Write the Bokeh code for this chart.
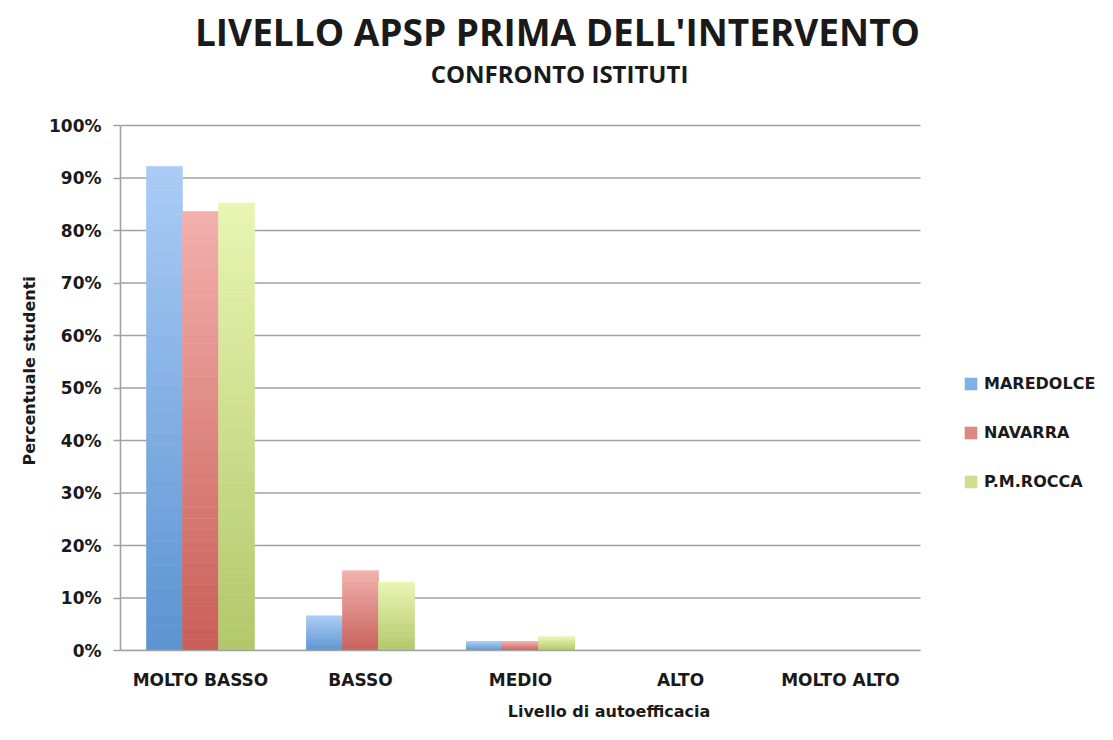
import numpy as np
from bokeh.plotting import figure
from bokeh.models import (ColumnDataSource, Legend, LegendItem, Title, Label,
                          NumeralTickFormatter, FixedTicker, Range1d)
from bokeh.embed import file_html
from bokeh.resources import INLINE

categories = ["MOLTO BASSO", "BASSO", "MEDIO", "ALTO", "MOLTO ALTO"]
series_names = ["MAREDOLCE", "NAVARRA", "P.M.ROCCA"]
maredolce = [0.922, 0.066, 0.017, 0.0, 0.0]
navarra = [0.836, 0.152, 0.017, 0.0, 0.0]
pm_rocca = [0.852, 0.130, 0.026, 0.0, 0.0]
y_ticks = [0, 0.1, 0.2, 0.3, 0.4, 0.5, 0.6, 0.7, 0.8, 0.9, 1.0]

series_values = [maredolce, navarra, pm_rocca]
# gradient colours (bottom, top) per series
grad = [((0x5B, 0x93, 0xD1), (0xAA, 0xCC, 0xF6)),
        ((0xC9, 0x5E, 0x58), (0xF3, 0xB0, 0xAC)),
        ((0xB3, 0xC7, 0x6A), (0xE8, 0xF6, 0xB2))]
offsets = [-0.225, 0.0, 0.225]
BAR_W = 0.225
NSEG = 40

FONT = "DejaVu Sans"
TXT = "#1A1A1A"
GRID = "#A2A2A2"

W, H = 1097, 724
LEFT, PLOT_RIGHT = 120, 920      # pixel extent of the category area
TOP_PX, BOTTOM_BORDER = 125, 74  # 100% line position, space under the frame
ncat = len(categories)
frame_h = H - BOTTOM_BORDER
x_end = ncat * (W - LEFT) / (PLOT_RIGHT - LEFT)   # room on the right for the legend
y_end = frame_h / (frame_h - TOP_PX)              # room on top for the titles
centers = [i + 0.5 for i in range(ncat)]

p = figure(x_range=Range1d(0, x_end), y_range=Range1d(0, y_end),
           width=W, height=H, output_backend="svg", toolbar_location=None,
           min_border_left=LEFT, min_border_right=0, min_border_top=0,
           min_border_bottom=BOTTOM_BORDER)
p.outline_line_color = None
p.background_fill_color = "white"
p.border_fill_color = "white"

def hexcol(c):
    return "#%02x%02x%02x" % tuple(int(round(v)) for v in c)

# horizontal grid lines over the category area only
p.segment(x0=[0] * len(y_ticks), x1=[ncat] * len(y_ticks), y0=y_ticks, y1=y_ticks,
          line_color=GRID, line_width=1.6)

renderers = []
for vals, (cb, ct), off in zip(series_values, grad, offsets):
    xs, bottoms, tops, cols = [], [], [], []
    for c, v in zip(centers, vals):
        if v <= 0:
            continue
        for k in range(NSEG):
            t = (k + 0.5) / NSEG
            xs.append(c + off)
            bottoms.append(v * k / NSEG)
            tops.append(v * (k + 1) / NSEG)
            cols.append(hexcol([b + (a - b) * t for a, b in zip(ct, cb)]))
    src = ColumnDataSource(dict(x=xs, bottom=bottoms, top=tops, color=cols))
    r = p.vbar(x="x", bottom="bottom", top="top",
               width=BAR_W, fill_color="color", line_color="color", line_width=0.6,
               source=src)
    renderers.append(r)

# axes
p.yaxis.ticker = FixedTicker(ticks=y_ticks)
p.yaxis.formatter = NumeralTickFormatter(format="0%")
p.yaxis.bounds = (0, 1)
p.yaxis.axis_line_color = GRID
p.yaxis.axis_line_width = 1.6
p.yaxis.major_tick_line_color = GRID
p.yaxis.major_tick_line_width = 1.6
p.yaxis.major_tick_out = 7
p.yaxis.major_tick_in = 0
p.yaxis.minor_tick_line_color = None
p.yaxis.major_label_standoff = 12
p.yaxis.major_label_text_font = FONT
p.yaxis.major_label_text_font_style = "bold"
p.yaxis.major_label_text_font_size = "17px"
p.yaxis.major_label_text_color = TXT

p.xaxis.ticker = FixedTicker(ticks=centers)
p.xaxis.major_label_overrides = {c: name for c, name in zip(centers, categories)}
p.xaxis.bounds = (0, ncat)
p.xaxis.axis_line_color = GRID
p.xaxis.axis_line_width = 1.6
p.xaxis.major_tick_line_color = None
p.xaxis.minor_tick_line_color = None
p.xaxis.major_label_standoff = 13
p.xaxis.major_label_text_font = FONT
p.xaxis.major_label_text_font_style = "bold"
p.xaxis.major_label_text_font_size = "17px"
p.xaxis.major_label_text_color = TXT
p.xaxis.axis_label = "Livello di autoefficacia"
p.xaxis.axis_label_text_font = FONT
p.xaxis.axis_label_text_font_style = "bold"
p.xaxis.axis_label_text_font_size = "16px"
p.xaxis.axis_label_text_color = TXT
p.xaxis.axis_label_standoff = 9

p.xgrid.grid_line_color = None
p.ygrid.grid_line_color = None

# y-axis title, a little above the middle of the value range as in the original
ytitle = Title(text="Percentuale studenti", align="left", offset=185,
               text_font=FONT, text_font_style="bold", text_font_size="16px",
               text_color=TXT, standoff=14)
p.add_layout(ytitle, "left")

# legend inside the (extended) frame, right of the bars
items = [LegendItem(label=n, renderers=[r], index=NSEG // 2)
         for n, r in zip(series_names, renderers)]
legend = Legend(items=items, location=(843, 159), orientation="vertical",
                glyph_width=15, glyph_height=15, label_height=15,
                label_standoff=6, spacing=30, padding=0, margin=0,
                border_line_color=None, background_fill_alpha=0,
                label_text_font=FONT, label_text_font_style="bold",
                label_text_font_size="16px", label_text_color=TXT)
p.add_layout(legend, "center")

# titles (screen offsets from the frame's bottom-left corner)
main = Label(x=437, y=frame_h - 31, x_units="screen", y_units="screen",
             text="LIVELLO APSP PRIMA DELL'INTERVENTO", text_align="center",
             text_baseline="middle", text_font="Open Sans", text_font_style="bold",
             text_font_size="37px", text_color=TXT)
sub = Label(x=439, y=frame_h - 73, x_units="screen", y_units="screen",
            text="CONFRONTO ISTITUTI", text_align="center",
            text_baseline="middle", text_font="Open Sans", text_font_style="bold",
            text_font_size="24px", text_color=TXT)
p.add_layout(main)
p.add_layout(sub)

open("out.html", "w").write(file_html(p, INLINE))
